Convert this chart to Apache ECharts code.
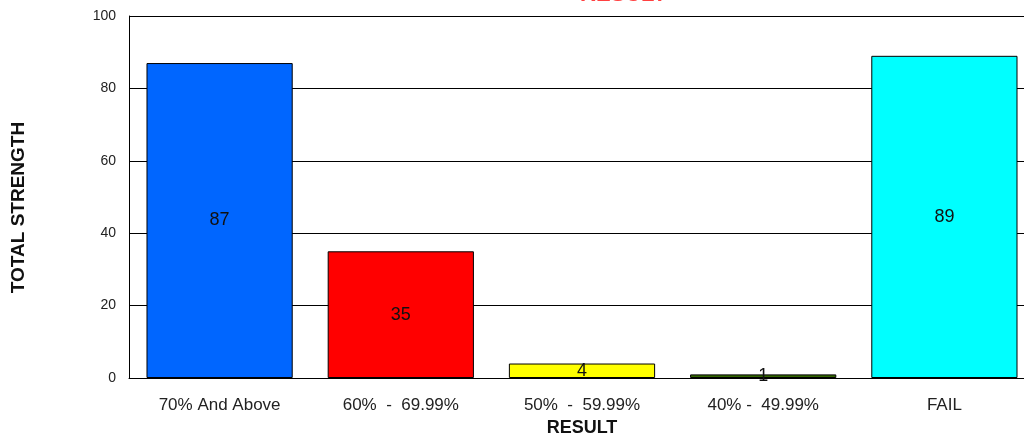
<!DOCTYPE html>
<html><head><meta charset="utf-8">
<script src="https://cdn.jsdelivr.net/npm/echarts@6/dist/echarts.min.js"></script>
<style>html,body{margin:0;padding:0;background:#fff}#c{width:1024px;height:438px}</style>
</head><body><div id="c"></div>
<script>
const categories = ['70% And Above', '60%  -  69.99%', '50%  -  59.99%', '40% -  49.99%', 'FAIL'];
const values = [87, 35, 4, 1, 89];
const barColors = ['#0066ff', '#ff0000', '#ffff00', '#336600', '#00ffff'];
const yTicks = [0, 20, 40, 60, 80, 100];

const chart = echarts.init(document.getElementById('c'), null, {renderer: 'canvas'});
const font = 'Liberation Sans, Arial, sans-serif';
chart.setOption({
  animation: false,
  title: {
    text: 'RESULT', left: 575, top: -21,
    textStyle: {color: '#ff4040', fontSize: 22, fontWeight: 'bold', fontFamily: font}
  },
  grid: {left: 129, width: 906, top: 16, bottom: 60, containLabel: false, outerBoundsMode: 'none'},
  xAxis: {
    type: 'category', data: categories,
    name: 'RESULT', nameLocation: 'middle', nameGap: 41,
    nameTextStyle: {fontSize: 18, fontWeight: 'bold', color: '#111', fontFamily: font},
    axisLine: {lineStyle: {color: '#000', width: 1}},
    axisTick: {show: false},
    axisLabel: {margin: 19, fontSize: 17, color: '#222', fontFamily: font, interval: 0}
  },
  yAxis: {
    type: 'value', min: yTicks[0], max: yTicks[yTicks.length - 1], interval: 20,
    name: 'TOTAL STRENGTH', nameLocation: 'middle', nameGap: 101,
    nameTextStyle: {fontSize: 19, fontWeight: 'bold', color: '#111', fontFamily: font, padding: [0, 21, 0, 0]},
    axisLine: {show: true, lineStyle: {color: '#000', width: 1}},
    axisTick: {show: false},
    axisLabel: {margin: 13, fontSize: 14, color: '#222', fontFamily: font},
    splitLine: {lineStyle: {color: '#000', width: 1}}
  },
  series: [{
    type: 'bar',
    data: values.map((v, i) => ({value: v, itemStyle: {color: barColors[i]}})),
    barCategoryGap: '19.3%',
    itemStyle: {borderColor: '#000', borderWidth: 1},
    label: {show: true, position: 'inside', color: '#111', fontSize: 18, fontFamily: font}
  }]
});
</script></body></html>
